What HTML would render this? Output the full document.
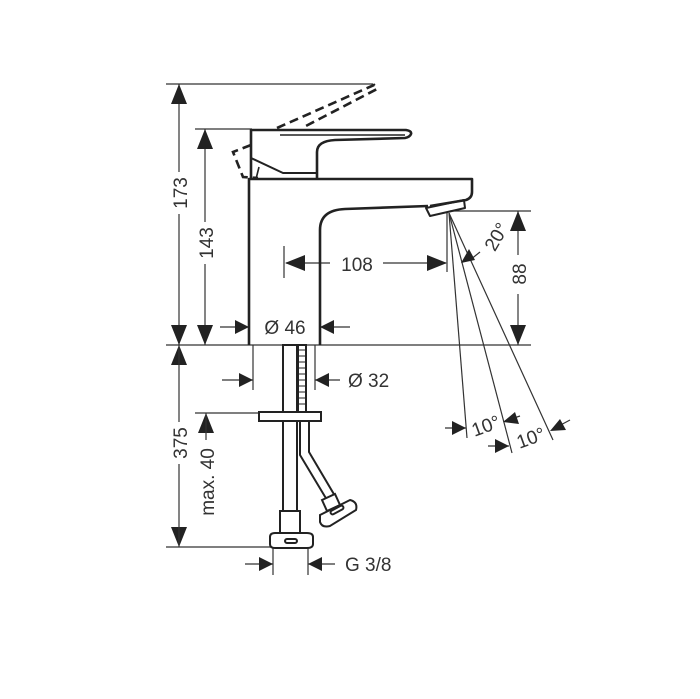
<!DOCTYPE html>
<html><head><meta charset="utf-8"><style>
html,body{margin:0;padding:0;background:#fff;}
svg{display:block;}
text{font-family:"Liberation Sans",sans-serif;font-size:19px;fill:#333;}
</style></head><body>
<svg width="700" height="699" viewBox="0 0 700 699" xmlns="http://www.w3.org/2000/svg">
<g stroke="#333" stroke-width="1.2" fill="none">
<line x1="166" y1="84" x2="373" y2="84"/>
<line x1="195" y1="129" x2="252" y2="129"/>
<line x1="166" y1="345" x2="531" y2="345"/>
<line x1="450" y1="211" x2="531" y2="211"/>
<line x1="195" y1="413" x2="262" y2="413"/>
<line x1="166" y1="547" x2="272" y2="547"/>
<line x1="284" y1="246" x2="284" y2="278"/>
<line x1="447" y1="212" x2="447" y2="272"/>
<line x1="253" y1="345" x2="253" y2="390"/>
<line x1="315" y1="345" x2="315" y2="390"/>
<line x1="273" y1="548" x2="273" y2="575"/>
<line x1="308" y1="548" x2="308" y2="575"/>
<line x1="179" y1="84" x2="179" y2="172"/><line x1="179" y1="214" x2="179" y2="345"/>
<path d="M179,84 l-8,20 h16z M179,345 l-8,-20 h16z M179,345 l-8,20 h16z M179,547 l-8,-20 h16z" fill="#222" stroke="none"/>
<line x1="179" y1="345" x2="179" y2="422"/><line x1="179" y1="464" x2="179" y2="547"/>
<line x1="205" y1="129" x2="205" y2="222"/><line x1="205" y1="264" x2="205" y2="345"/>
<path d="M205,129 l-8,20 h16z M205,345 l-8,-20 h16z M206,413 l-8,20 h16z" fill="#222" stroke="none"/>
<line x1="206" y1="413" x2="206" y2="440"/>
<line x1="518" y1="211" x2="518" y2="255"/><line x1="518" y1="294" x2="518" y2="345"/>
<path d="M518,211 l-8,20 h16z M518,345 l-8,-20 h16z" fill="#222" stroke="none"/>
<line x1="286" y1="263" x2="330" y2="263"/><line x1="383" y1="263" x2="446" y2="263"/>
<path d="M285,263 l20,-8 v16z M447,263 l-20,-8 v16z" fill="#222" stroke="none"/>
<line x1="220" y1="327" x2="249" y2="327"/>
<path d="M249,327 l-14,-7 v14z" fill="#222" stroke="none"/>
<line x1="350" y1="327" x2="320" y2="327"/>
<path d="M320,327 l14,-7 v14z" fill="#222" stroke="none"/>
<line x1="222" y1="380" x2="253" y2="380"/><path d="M253,380 l-14,-7 v14z" fill="#222" stroke="none"/>
<line x1="340" y1="380" x2="315" y2="380"/><path d="M315,380 l14,-7 v14z" fill="#222" stroke="none"/>
<line x1="245" y1="564" x2="273" y2="564"/><path d="M273,564 l-14,-7 v14z" fill="#222" stroke="none"/>
<line x1="335" y1="564" x2="308" y2="564"/><path d="M308,564 l14,-7 v14z" fill="#222" stroke="none"/>
<line x1="449" y1="213" x2="467" y2="438"/>
<line x1="449" y1="213" x2="512" y2="453"/>
<line x1="449" y1="213" x2="553" y2="440"/>
<line x1="480" y1="252" x2="470" y2="260"/><path d="M461,263 l8,-14 l6,11z" fill="#222" stroke="none"/>
<line x1="445" y1="428" x2="466" y2="428"/><path d="M466,428 l-14,-7 v14z" fill="#222" stroke="none"/>
<line x1="520" y1="416" x2="505" y2="421"/><path d="M503,422 l12,-10 l4,12z" fill="#222" stroke="none"/>
<line x1="488" y1="446" x2="509" y2="446"/><path d="M509,446 l-14,-7 v14z" fill="#222" stroke="none"/>
<line x1="570" y1="420" x2="555" y2="428"/><path d="M550,431 l10,-12 l6,11z" fill="#222" stroke="none"/>
</g>
<g stroke="#222" stroke-width="2.6" fill="none" stroke-linejoin="round">
<path d="M249,345 V179 H472 V192 Q472,198 466,200 L430,206"/>
<path d="M320,345 V230 Q320,210 345,209 L428,206"/>
<path d="M426,208 L464,200 L465,208 L430,216 Z" stroke-width="2"/>
<path d="M251,178 V130 H406 Q412,131 411,134 Q410,137 405,138 L335,140 Q317,141 317,152 V178"/>
<path d="M251,158 L283,173 L316,173" stroke-width="2"/>
<path d="M280,135 H405" stroke-width="1.4"/>
<path d="M256,179 L259,167" stroke-width="1.6"/>
</g>
<g stroke="#222" stroke-width="2.6" fill="none" stroke-dasharray="9,5">
<path d="M277,128 L374,85 L377,89 L302,128"/>
<path d="M251,145 L233,152 L243,177 L258,178"/>
</g>
<g stroke="#222" stroke-width="2" fill="#fff">
<rect x="283" y="345" width="14" height="67"/>
<rect x="298" y="345" width="8" height="67"/>
<path d="M299,350 h6 M299,356 h6 M299,362 h6 M299,368 h6 M299,374 h6 M299,380 h6 M299,386 h6 M299,392 h6 M299,398 h6 M299,404 h6" stroke-width="1"/>
<rect x="259" y="412" width="62" height="9"/>
<rect x="283" y="421" width="14" height="90"/>
<path d="M300,421 V455 L327,500 L335,496 L309,452 V421 Z"/>
<path d="M280,511 h20 v22 h-20z"/>
<path d="M270,537 q0,-4 5,-4 h32 q6,0 6,4 v7 q0,4 -6,4 h-32 q-5,0 -5,-4z"/>
<rect x="285" y="539" width="12" height="4" rx="2"/>
<path d="M322,500 L335,494 L340,505 L327,511 Z"/>
<path d="M320,515 L350,500 Q358,502 356,510 L330,526 Q322,528 320,522 Z"/>
<rect x="330" y="508" width="14" height="4" rx="2" transform="rotate(-28 337 510)"/>
</g>
<text x="357" y="271" text-anchor="middle" font-size="20">108</text>
<text x="285" y="334" text-anchor="middle" font-size="20">Ø 46</text>
<text x="348" y="387" font-size="20">Ø 32</text>
<text x="345" y="571" font-size="20">G 3/8</text>
<text transform="translate(187,193) rotate(-90)" text-anchor="middle" font-size="20">173</text>
<text transform="translate(213,243) rotate(-90)" text-anchor="middle" font-size="20">143</text>
<text transform="translate(526,274) rotate(-90)" text-anchor="middle" font-size="20">88</text>
<text transform="translate(187,443) rotate(-90)" text-anchor="middle" font-size="20">375</text>
<text transform="translate(214,482) rotate(-90)" text-anchor="middle" font-size="19">max. 40</text>
<text transform="translate(502,240) rotate(-60)" text-anchor="middle" font-size="20">20°</text>
<text transform="translate(488,432) rotate(-20)" text-anchor="middle" font-size="20">10°</text>
<text transform="translate(533,444) rotate(-20)" text-anchor="middle" font-size="20">10°</text>
</svg>
</body></html>
